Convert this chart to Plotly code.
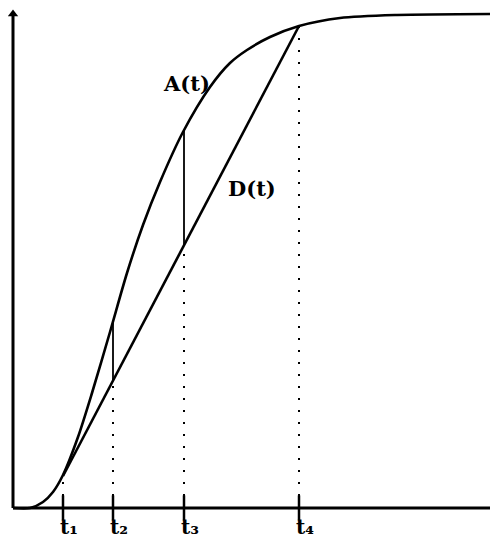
import plotly.graph_objects as go

# time markers (horizontal units) and their labels
t_marks = [50, 100, 171, 286]
t_labels = ["t₁", "t₂", "t₃", "t₄"]

# cumulative arrivals A(t)
a_t = [0, 17, 30, 40, 50, 65, 79, 97, 114, 130, 147, 170, 197, 217, 234, 257, 286, 327, 384, 484]
a_v = [0, 0, 6, 16, 33, 71, 115, 176, 235, 283, 326, 376, 421, 445, 458, 471, 482, 490, 493, 494]

# cumulative departures D(t): straight line from t1 to t4
d_t = [50, 286]
d_v = [32, 482]

# A values at t2 and t3 for the vertical gaps
gap_t = [100, 171]
gap_a = [185, 377]

x_end = 484
y_end = 494


def d_at(t):
    return d_v[0] + (d_v[1] - d_v[0]) * (t - d_t[0]) / (d_t[1] - d_t[0])


fig = go.Figure()

# axes
fig.add_trace(go.Scatter(x=[0, 0], y=[0, y_end + 2], mode="lines",
                         line=dict(color="black", width=3), hoverinfo="skip"))
fig.add_trace(go.Scatter(x=[0, x_end - 4], y=[0, 0], mode="lines",
                         line=dict(color="black", width=3), hoverinfo="skip"))
fig.add_trace(go.Scatter(x=[0], y=[y_end], mode="markers",
                         marker=dict(symbol="triangle-up", size=9, color="black"), hoverinfo="skip"))
fig.add_trace(go.Scatter(x=[x_end - 3], y=[0], mode="markers",
                         marker=dict(symbol="triangle-right", size=9, color="black"), hoverinfo="skip"))

# dotted guides
dot_tops = [d_at(t) for t in t_marks]
for t, top in zip(t_marks, dot_tops):
    fig.add_trace(go.Scatter(x=[t, t], y=[0, top], mode="lines",
                             line=dict(color="black", width=2, dash="2px,10px"), hoverinfo="skip"))

# tick marks
fig.add_trace(go.Scatter(x=t_marks, y=[0] * len(t_marks), mode="markers",
                         marker=dict(symbol="line-ns", size=18, line=dict(width=2.5, color="black")),
                         hoverinfo="skip"))

# A(t)
fig.add_trace(go.Scatter(x=a_t, y=a_v, mode="lines",
                         line=dict(color="black", width=2.6, shape="spline", smoothing=0.8),
                         hoverinfo="skip"))
# D(t)
fig.add_trace(go.Scatter(x=d_t, y=d_v, mode="lines", line=dict(color="black", width=2.6), hoverinfo="skip"))

# vertical gaps
for t, a in zip(gap_t, gap_a):
    fig.add_trace(go.Scatter(x=[t, t], y=[d_at(t), a], mode="lines",
                             line=dict(color="black", width=1.8), hoverinfo="skip"))

font = dict(family="DejaVu Serif", size=21, color="black")
for t, lab in zip(t_marks, t_labels):
    fig.add_annotation(x=t, y=-19, text="<b>" + lab + "</b>", showarrow=False,
                       xanchor="left", xshift=-5, font=dict(font, size=20))

fig.add_annotation(x=173, y=425, text="<b>A(t)</b>", showarrow=False, font=font)
fig.add_annotation(x=239, y=320, text="<b>D(t)</b>", showarrow=False, font=font)

# page body has an 8px margin; the figure is sized and ranged to compensate
fig.update_layout(
    width=490, height=533,
    margin=dict(l=0, r=0, t=0, b=0),
    plot_bgcolor="white", paper_bgcolor="white",
    showlegend=False,
    xaxis=dict(range=[-5, 485], visible=False, fixedrange=True),
    yaxis=dict(range=[-33, 500], visible=False, fixedrange=True),
)

fig.write_html("out.html")
